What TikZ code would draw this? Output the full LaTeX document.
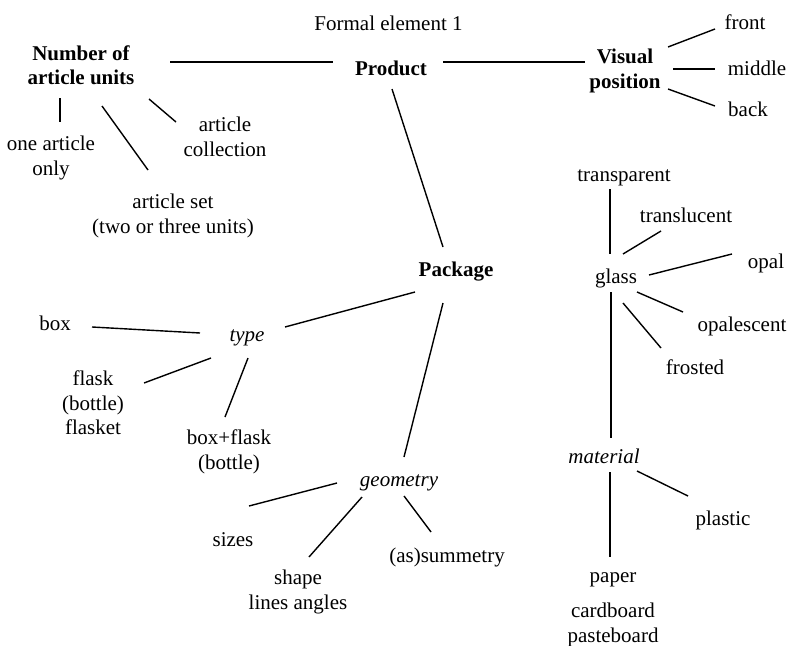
\documentclass[tikz,border=0pt]{standalone}
\usepackage{fontspec}
\setmainfont{Liberation Serif}
\usetikzlibrary{calc}

\begin{document}
\begin{tikzpicture}[
    x=1pt, y=-1pt,
    every node/.style={font=\fontsize{21}{24.5}\selectfont, align=center, inner sep=0pt,
        execute at begin node=\rule{0pt}{24.2pt}, execute at end node=\strut},
    head/.style={font=\fontsize{21}{24.5}\selectfont\bfseries},
    sub/.style={font=\fontsize{21}{24.5}\selectfont\itshape},
    link/.style={line width=1.4pt}
]
\useasboundingbox (0,0) rectangle (789,645);

% top row
\node (title) at (388.5,22) {Formal element 1};
\node[head] (num) at (81,69) {Number of\\article units};
\node[head] (prod) at (391,67) {Product};
\node[head] (vis) at (625,72.5) {Visual\\position};
\node (front) at (745,21) {front};
\node (middle) at (757,67) {middle};
\node (back) at (748,108) {back};
\node (one) at (51,159.5) {one article\\only};
\node (coll) at (225,140.5) {article\\collection};
\node (set) at (173,217.5) {article set\\(two or three units)};

% package
\node[head] (pack) at (456,268) {Package};
\node[sub] (type) at (247,333) {type};
\node (box) at (55,322) {box};
\node (flask) at (93,406.5) {flask\\(bottle)\\flasket};
\node (boxfl) at (229,453.5) {box+flask\\(bottle)};
\node[sub] (geom) at (399,478) {geometry};
\node (sizes) at (233,538) {sizes};
\node (shape) at (298,593.5) {shape\\lines angles};
\node (asym) at (447,554) {(as)summetry};

% material
\node (transp) at (624,173) {transparent};
\node (transl) at (686,214) {translucent};
\node (opal) at (766,260) {opal};
\node (glass) at (616,275) {glass};
\node (opalesc) at (742,323) {opalescent};
\node (frosted) at (695,366) {frosted};
\node[sub] (mat) at (604,455) {material};
\node (plastic) at (723,517) {plastic};
\node (paper) at (613,611) {paper\\[10.5pt]cardboard\\pasteboard};

\draw[link] ($(num)+(89,-7)$) -- ($(prod)+(-58,-5)$);
\draw[link] ($(prod)+(52,-5)$) -- ($(vis)+(-40,-10.5)$);
\draw[link] ($(vis)+(43,-25.5)$) -- ($(front)+(-30,8)$);
\draw[link] ($(vis)+(48,-3.5)$) -- ($(middle)+(-42,2)$);
\draw[link] ($(vis)+(43,16.5)$) -- ($(back)+(-33,-2)$);
\draw[link] ($(num)+(-21,29)$) -- ($(one)+(9,-37.5)$);
\draw[link] ($(num)+(21,37)$) -- ($(set)+(-25,-47.5)$);
\draw[link] ($(num)+(68,30)$) -- ($(coll)+(-49,-18.5)$);
\draw[link] ($(prod)+(1,22)$) -- ($(pack)+(-13,-21)$);

\draw[link] ($(pack)+(-41,24)$) -- ($(type)+(38,-6)$);
\draw[link] ($(pack)+(-13,35)$) -- ($(geom)+(5,-21)$);
\draw[link] ($(type)+(-47,0)$) -- ($(box)+(37,5)$);
\draw[link] ($(type)+(-36,25)$) -- ($(flask)+(51,-23.5)$);
\draw[link] ($(type)+(1,25)$) -- ($(boxfl)+(-4,-36.5)$);
\draw[link] ($(geom)+(-62,5)$) -- ($(sizes)+(16,-32)$);
\draw[link] ($(geom)+(-37,19)$) -- ($(shape)+(11,-36.5)$);
\draw[link] ($(geom)+(5,18)$) -- ($(asym)+(-16,-22)$);

\draw[link] ($(transp)+(-14,16)$) -- ($(glass)+(-6,-21)$);
\draw[link] ($(glass)+(7,-21)$) -- ($(transl)+(-25,17)$);
\draw[link] ($(glass)+(33,0)$) -- ($(opal)+(-34,-6)$);
\draw[link] ($(glass)+(21,17)$) -- ($(opalesc)+(-59,-11)$);
\draw[link] ($(glass)+(7,28)$) -- ($(frosted)+(-34,-18)$);
\draw[link] ($(glass)+(-5,17)$) -- ($(mat)+(7,-17)$);
\draw[link] ($(mat)+(33,16)$) -- ($(plastic)+(-35,-21)$);
\draw[link] ($(mat)+(6,17)$) -- ($(paper)+(-3,-54)$);
\end{tikzpicture}
\end{document}
